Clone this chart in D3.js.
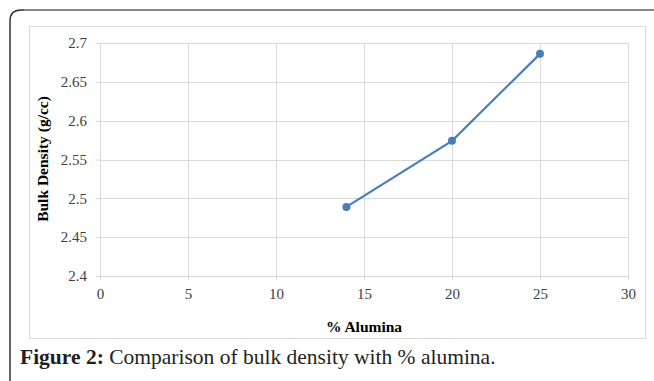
<!DOCTYPE html>
<html>
<head>
<meta charset="utf-8">
<script src="https://cdn.jsdelivr.net/npm/d3@7"></script>
<style>
  body { margin: 0; background: #fff; }
  svg { display: block; }
</style>
</head>
<body>
<svg></svg>
<script>
var width = 654;
var height = 381;
var serif = "Liberation Serif";

// data
var alumina = [14, 20, 25];
var density = [2.489, 2.574, 2.686];
var xTicks = [0, 5, 10, 15, 20, 25, 30];
var yTicks = [2.4, 2.45, 2.5, 2.55, 2.6, 2.65, 2.7];

var svg = d3.select("svg").attr("width", width).attr("height", height)
    .attr("font-family", serif);

// outer page frame (rounded top-left, gray top rule)
svg.append("path")
    .attr("d", "M10,392 L10,21 Q10,10 21,10 L654,10")
    .attr("fill", "none")
    .attr("stroke", "#333")
    .attr("stroke-width", 1.5);
svg.append("line")
    .attr("x1", 24).attr("x2", 654).attr("y1", 10).attr("y2", 10)
    .attr("stroke", "#888").attr("stroke-width", 2);

// chart box
svg.append("rect")
    .attr("x", 29.5).attr("y", 26.5)
    .attr("width", 616).attr("height", 312)
    .attr("fill", "#fff")
    .attr("stroke", "#d9d9d9");

var margin = {top: 43, left: 100};

var xScale = d3.scaleLinear().domain([0, 30]).range([0, 528]);
var yScale = d3.scaleLinear().domain([2.4, 2.7]).range([233, 0]);

var g = svg.append("g").attr("transform", "translate(" + margin.left + "," + margin.top + ")");

// gridlines
g.selectAll(".hgrid").data(yTicks).enter().append("line")
    .attr("x1", 0).attr("x2", 528)
    .attr("y1", function(d) { return Math.round(yScale(d)) + 0.5; })
    .attr("y2", function(d) { return Math.round(yScale(d)) + 0.5; })
    .attr("stroke", "#d9d9d9");
g.selectAll(".vgrid").data(xTicks).enter().append("line")
    .attr("y1", 0).attr("y2", 233)
    .attr("x1", function(d) { return Math.round(xScale(d)) + 0.5; })
    .attr("x2", function(d) { return Math.round(xScale(d)) + 0.5; })
    .attr("stroke", "#d9d9d9");

// axes
var xAxis = d3.axisBottom(xScale).tickValues(xTicks).tickSize(4).tickPadding(8);
var yAxis = d3.axisLeft(yScale).tickValues(yTicks).tickSize(4).tickPadding(9)
    .tickFormat(function(d) { return String(+d.toFixed(2)); });

var gx = g.append("g").attr("transform", "translate(0,233)").call(xAxis);
var gy = g.append("g").call(yAxis);
[gx, gy].forEach(function(a) {
  a.attr("font-family", serif).attr("font-size", 15);
  a.select(".domain").attr("stroke", "#d9d9d9");
  a.selectAll(".tick line").attr("stroke", "#d9d9d9");
  a.selectAll("text").attr("fill", "#404040");
});

// series line + markers
var pts = alumina.map(function(a, i) { return [a, density[i]]; });
var line = d3.line()
    .x(function(d) { return xScale(d[0]); })
    .y(function(d) { return yScale(d[1]); });
g.append("path")
    .datum(pts)
    .attr("d", line)
    .attr("fill", "none")
    .attr("stroke", "#4a7ebb")
    .attr("stroke-width", 2.25);
g.selectAll(".pt").data(pts).enter().append("circle")
    .attr("cx", function(d) { return xScale(d[0]); })
    .attr("cy", function(d) { return yScale(d[1]); })
    .attr("r", 4)
    .attr("fill", "#4a7ebb");

// axis titles
svg.append("text")
    .attr("x", 364).attr("y", 332)
    .attr("text-anchor", "middle")
    .attr("font-weight", "bold")
    .attr("font-size", 15.5)
    .attr("fill", "#000")
    .text("% Alumina");
svg.append("text")
    .attr("transform", "translate(48,159) rotate(-90)")
    .attr("text-anchor", "middle")
    .attr("font-weight", "bold")
    .attr("font-size", 15.5)
    .attr("fill", "#000")
    .text("Bulk Density (g/cc)");

// caption
var cap = svg.append("text")
    .attr("x", 20).attr("y", 364)
    .attr("font-size", 21.5)
    .attr("fill", "#231f20");
cap.append("tspan").attr("font-weight", "bold").text("Figure 2:");
cap.append("tspan").text(" Comparison of bulk density with % alumina.");
</script>
</body>
</html>
